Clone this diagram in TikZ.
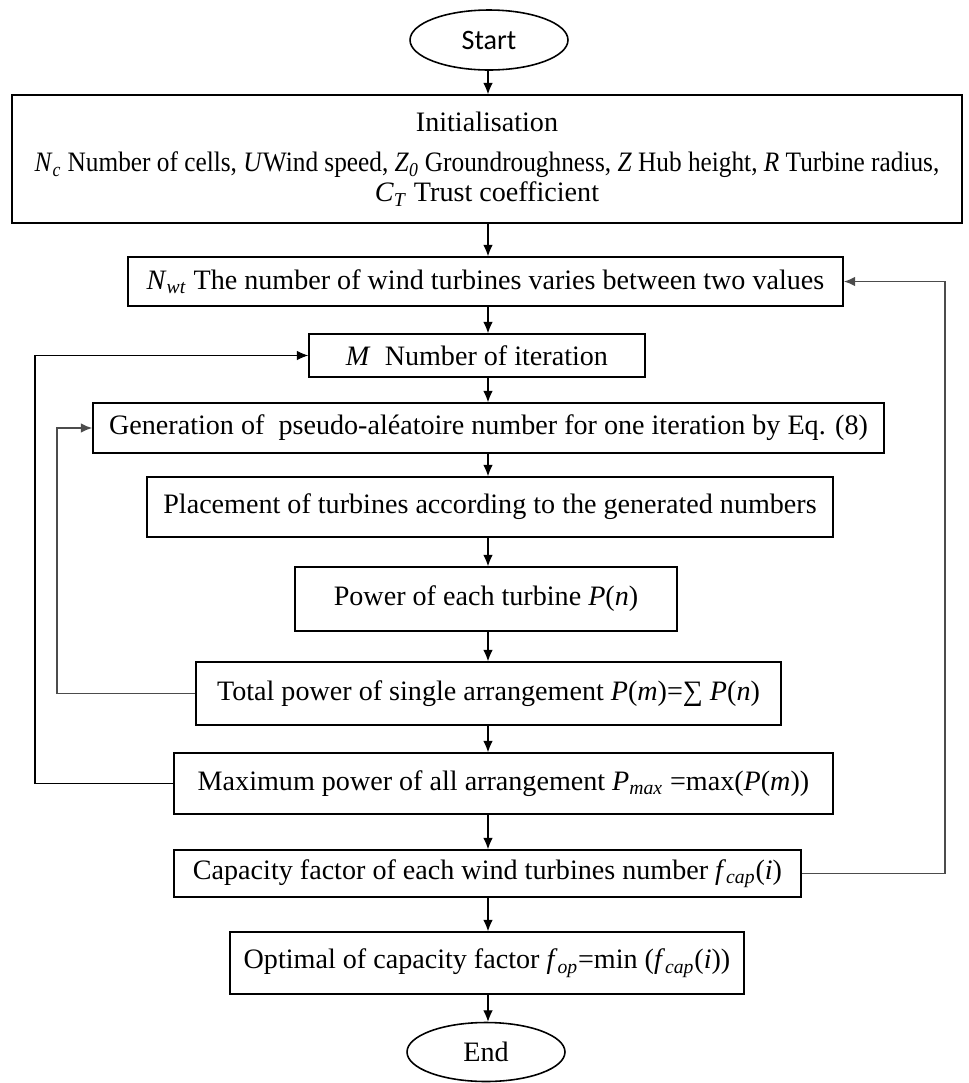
\documentclass[tikz,border=0pt]{standalone}
\usepackage{fontspec}
\usepackage{graphicx}
\setmainfont{Liberation Serif}
\newfontfamily\startfont{Carlito}
\usetikzlibrary{shapes.geometric,arrows.meta}
\newcommand{\vsub}[2]{\textit{#1}\textsubscript{\textit{#2}}}

\begin{document}
\begin{tikzpicture}
[	
	x=0.02cm,y=-0.02cm,
	font=\fontsize{16pt}{17pt}\selectfont,
	blk/.style={rectangle,draw,line width=0.9pt,inner sep=0pt,align=center},
	term/.style={ellipse,draw,line width=0.9pt,inner sep=0pt,minimum width=3.16cm,minimum height=1.2cm},
	flow/.style={line width=0.6pt,->,>={Latex[length=6.5pt,width=5.5pt]}},
	back/.style={line width=1.1pt,draw=black!70,->,>={Latex[length=6.5pt,width=5.5pt]}}
]
\useasboundingbox (0,0) rectangle (968,1083);

\node[term] (start) at (489,40) {\startfont Start};

\node[blk,minimum width=19cm,minimum height=2.56cm] (init) at (487,159) {Initialisation\\[6pt]
\scalebox{0.9}[1]{\vsub{N}{c} Number of cells, \textit{U}Wind speed, \vsub{Z}{0} Groundroughness, \textit{Z} Hub height, \textit{R} Turbine radius,}\\
\vsub{C}{T} Trust coefficient};

\node[blk,minimum width=14.3cm,minimum height=0.98cm] (nwt) at (485.5,281.5) {\vsub{N}{wt} The number of wind turbines varies between two values};
\node[blk,minimum width=6.72cm,minimum height=0.86cm] (m) at (477,355.5) {\textit{M}\ \ Number of iteration};
\node[blk,minimum width=15.82cm,minimum height=1cm] (gen) at (488.5,428) {Generation of\ \ pseudo-aléatoire number for one iteration by Eq. (8)};
\node[blk,minimum width=13.72cm,minimum height=1.2cm] (place) at (490,507) {Placement of turbines according to the generated numbers};
\node[blk,minimum width=7.64cm,minimum height=1.28cm] (pow) at (486,599) {Power of each turbine \textit{P}(\textit{n})};
\node[blk,minimum width=11.7cm,minimum height=1.26cm] (tot) at (488.5,693.5) {Total power of single arrangement \textit{P}(\textit{m})=∑ \textit{P}(\textit{n})};
\node[blk,minimum width=13.18cm,minimum height=1.22cm] (pmax) at (503.5,783.5) {Maximum power of all arrangement \vsub{P}{max} =max(\textit{P}(\textit{m}))};
\node[blk,minimum width=12.54cm,minimum height=0.94cm] (cap) at (487.5,873.5) {Capacity factor of each wind turbines number \vsub{f}{cap}(\textit{i})};
\node[blk,minimum width=10.28cm,minimum height=1.24cm] (opt) at (487,963) {Optimal of capacity factor \vsub{f}{op}=min (\vsub{f}{cap}(\textit{i}))};

\node[term,minimum height=1.18cm] (stop) at (486,1052) {End};

\coordinate (ax) at (488,0);
\coordinate (lo) at (35,0);
\coordinate (li) at (57,0);
\coordinate (ri) at (945,0);

\foreach \a/\b in {start/init,init/nwt,nwt/m,m/gen,gen/place,place/pow,pow/tot,tot/pmax,pmax/cap,cap/opt,opt/stop}
	\draw[flow] (\a.south -| ax) -- (\b.north -| ax);

\draw[flow]	(pmax.west)	-- 	(pmax.west -| lo)	|-	(m.west);
\draw[back]	(tot.west)	-- 	(tot.west -| li)	|-	(gen.west);
\draw[back]	(cap.east)	-- 	(cap.east -| ri)	|-	(nwt.east);

\end{tikzpicture}
\end{document}
